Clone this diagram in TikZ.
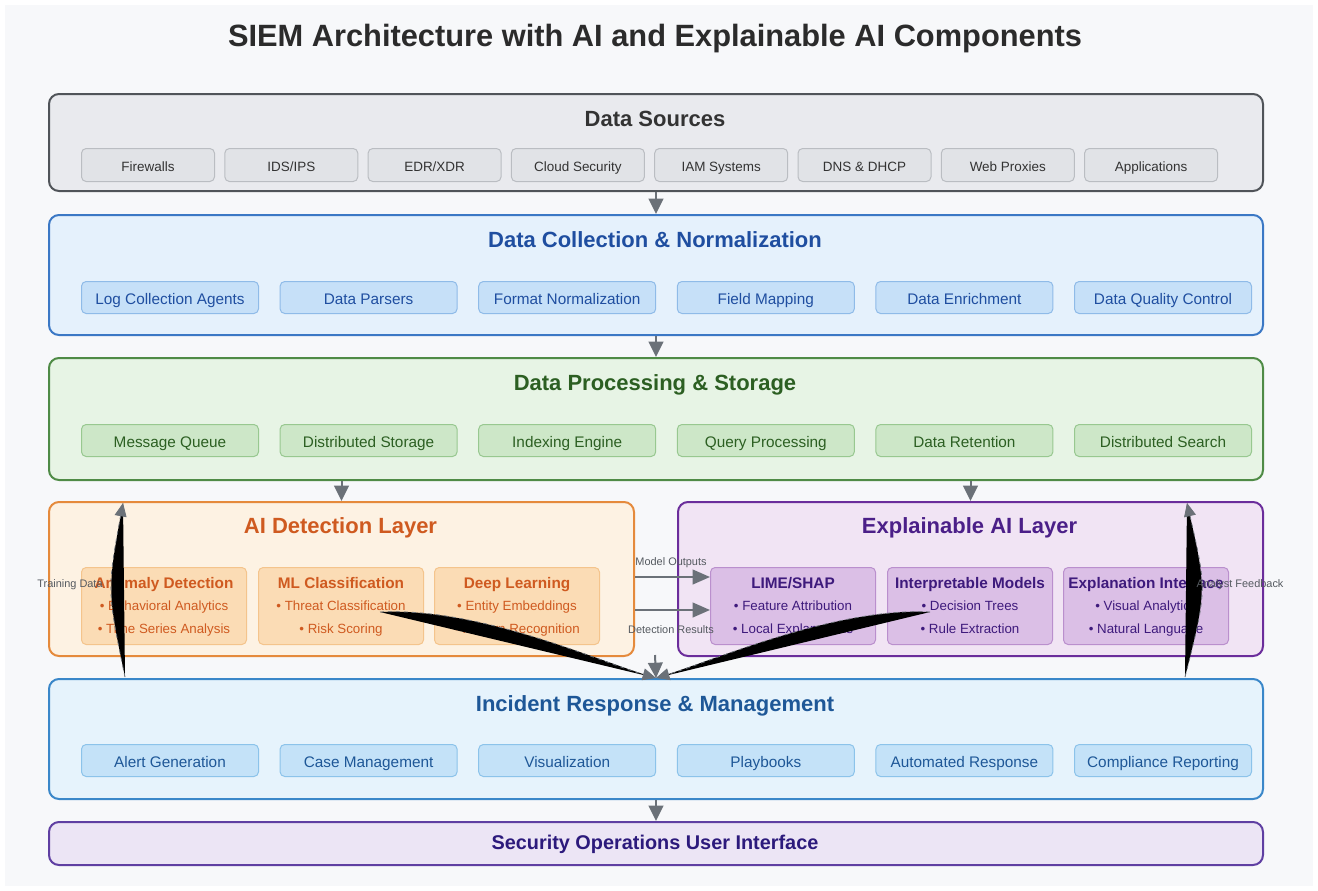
\documentclass[tikz,border=0pt]{standalone}
\usepackage{fontspec}
\setmainfont{Liberation Sans}
\usetikzlibrary{arrows.meta,calc}
\newcommand{\pxl}{0.75pt}
\definecolor{bgc}{HTML}{F7F8FA}
\definecolor{titc}{HTML}{2B2B2B}
\definecolor{dsf}{HTML}{E9EAEE}\definecolor{dsb}{HTML}{505459}\definecolor{dsif}{HTML}{E1E3E7}\definecolor{dsib}{HTML}{BABDC2}\definecolor{dst}{HTML}{333333}
\definecolor{dcf}{HTML}{E5F1FC}\definecolor{dcb}{HTML}{3B78C5}\definecolor{dcif}{HTML}{C6E0F8}\definecolor{dcib}{HTML}{8FBBE8}\definecolor{dct}{HTML}{1F4EA0}
\definecolor{dpf}{HTML}{E7F4E5}\definecolor{dpb}{HTML}{4F8B46}\definecolor{dpif}{HTML}{CDE7C8}\definecolor{dpib}{HTML}{98C890}\definecolor{dpt}{HTML}{2C5F22}
\definecolor{aif}{HTML}{FDF2E3}\definecolor{aib}{HTML}{E58A3C}\definecolor{aiif}{HTML}{FBDCB5}\definecolor{aiib}{HTML}{F4C48C}\definecolor{ait}{HTML}{CF5A20}
\definecolor{xaf}{HTML}{F1E4F4}\definecolor{xab}{HTML}{6B2D9B}\definecolor{xaif}{HTML}{DBBFE6}\definecolor{xaib}{HTML}{BA8FCD}\definecolor{xat}{HTML}{4B1F88}\definecolor{xast}{HTML}{3E1A7C}
\definecolor{irf}{HTML}{E6F3FC}\definecolor{irb}{HTML}{3A87C9}\definecolor{irif}{HTML}{C4E2F8}\definecolor{irib}{HTML}{8CC3EA}\definecolor{irt}{HTML}{1E5797}
\definecolor{sof}{HTML}{ECE5F5}\definecolor{sob}{HTML}{5F3FA2}\definecolor{sot}{HTML}{2C1A7C}
\definecolor{arrc}{HTML}{6B7178}\definecolor{lblc}{HTML}{555A60}
\begin{document}
\begin{tikzpicture}[x=0.75pt,y=-0.75pt,
  layer/.style={draw, line width=1.5pt, rounded corners=7.5pt, anchor=north west, inner sep=0pt, minimum width=1214*\pxl},
  half/.style={draw, line width=1.5pt, rounded corners=7.5pt, anchor=north west, inner sep=0pt, minimum width=585*\pxl, minimum height=154*\pxl},
  ltitle/.style={font=\fontsize{16.5}{19}\selectfont\bfseries, inner sep=0pt, text height=15.4pt, text depth=3.5pt},
  dsitem/.style={draw=dsib, fill=dsif, text=dst, line width=0.75pt, rounded corners=3.5pt, anchor=north west, inner sep=0pt, minimum width=133*\pxl, minimum height=33*\pxl, text height=12.3pt, text depth=2pt, font=\fontsize{10.1}{12}\selectfont},
  item/.style={line width=0.75pt, rounded corners=3.5pt, anchor=north west, inner sep=0pt, minimum width=177*\pxl, minimum height=32*\pxl, text height=12.7pt, text depth=2.3pt, font=\fontsize{11.5}{13}\selectfont},
  subbox/.style={line width=0.75pt, rounded corners=3.5pt, anchor=north west, inner sep=0pt, minimum width=165*\pxl, minimum height=77*\pxl},
  subt/.style={font=\fontsize{11.5}{13}\selectfont\bfseries, inner sep=0pt, text height=10.8pt, text depth=2.5pt},
  bul/.style={font=\fontsize{10}{12}\selectfont, inner sep=0pt, text height=9.4pt, text depth=2.2pt},
  arr/.style={draw=arrc, line width=1.5pt, -{Triangle[length=11.5pt,width=11pt]}, arrc},
  harr/.style={draw=arrc, line width=1.5pt, -{Triangle[length=13pt,width=11pt]}, arrc},
  elbl/.style={font=\fontsize{8.2}{10}\selectfont, text=lblc, inner sep=0pt},
  wedge/.style={draw=arrc, line width=0.6pt, dashed, -{Triangle[length=10pt,width=9pt]}},
]
\useasboundingbox (0,0) rectangle (1318,890);
\fill[white] (0,0) rectangle (1318,890);
\fill[bgc] (5,5) rectangle (1313,886);

% title
\node[font=\fontsize{23.1}{27}\selectfont\bfseries, text=titc, inner sep=0pt] (title) at (655,39) {SIEM Architecture with AI and Explainable AI Components};

% Data Sources
\node[layer, draw=dsb, fill=dsf, minimum height=97*\pxl] (ds) at (48,93) {};
\node[ltitle, text=dst] (dsT) at (655,119) {Data Sources};
\foreach \t [count=\i] in {Firewalls, IDS/IPS, EDR/XDR, Cloud Security, IAM Systems, DNS \& DHCP, Web Proxies, Applications}
  \node[dsitem] (ds\i) at ({81+(\i-1)*143.3},148) {\t};

% Data Collection
\node[layer, draw=dcb, fill=dcf, minimum height=120*\pxl] (dc) at (48,214) {};
\node[ltitle, text=dct] (dcT) at (655,240) {Data Collection \& Normalization};
\foreach \t [count=\i] in {Log Collection Agents, Data Parsers, Format Normalization, Field Mapping, Data Enrichment, Data Quality Control}
  \node[item, draw=dcib, fill=dcif, text=dct] (dc\i) at ({81+(\i-1)*198.6},281) {\t};

% Data Processing
\node[layer, draw=dpb, fill=dpf, minimum height=122*\pxl] (dp) at (48,357) {};
\node[ltitle, text=dpt] (dpT) at (655,383) {Data Processing \& Storage};
\foreach \t [count=\i] in {Message Queue, Distributed Storage, Indexing Engine, Query Processing, Data Retention, Distributed Search}
  \node[item, draw=dpib, fill=dpif, text=dpt] (dp\i) at ({81+(\i-1)*198.6},424) {\t};

% AI Detection Layer
\node[half, draw=aib, fill=aif] (ai) at (48,501) {};
\node[ltitle, text=ait] (aiT) at (340.5,526) {AI Detection Layer};
\node[subbox, draw=aiib, fill=aiif] (an) at (81,567) {};
\node[subbox, draw=aiib, fill=aiif] (ml) at (258,567) {};
\node[subbox, draw=aiib, fill=aiif] (dl) at (434,567) {};
\node[subt, text=ait] at ($(an.north)+(0,16)$) {Anomaly Detection};
\node[bul, text=ait] at ($(an.north)+(0,39)$) {• Behavioral Analytics};
\node[bul, text=ait] at ($(an.north)+(0,62)$) {• Time Series Analysis};
\node[subt, text=ait] at ($(ml.north)+(0,16)$) {ML Classification};
\node[bul, text=ait] at ($(ml.north)+(0,39)$) {• Threat Classification};
\node[bul, text=ait] at ($(ml.north)+(0,62)$) {• Risk Scoring};
\node[subt, text=ait] at ($(dl.north)+(0,16)$) {Deep Learning};
\node[bul, text=ait] at ($(dl.north)+(0,39)$) {• Entity Embeddings};
\node[bul, text=ait] at ($(dl.north)+(0,62)$) {• Pattern Recognition};

% Explainable AI Layer
\node[half, draw=xab, fill=xaf] (xa) at (677,501) {};
\node[ltitle, text=xat] (xaT) at (969.5,526) {Explainable AI Layer};
\node[subbox, draw=xaib, fill=xaif] (ls) at (710,567) {};
\node[subbox, draw=xaib, fill=xaif] (im) at (887,567) {};
\node[subbox, draw=xaib, fill=xaif] (ei) at (1063,567) {};
\node[subt, text=xast] at ($(ls.north)+(0,16)$) {LIME/SHAP};
\node[bul, text=xast] at ($(ls.north)+(0,39)$) {• Feature Attribution};
\node[bul, text=xast] at ($(ls.north)+(0,62)$) {• Local Explanations};
\node[subt, text=xast] at ($(im.north)+(0,16)$) {Interpretable Models};
\node[bul, text=xast] at ($(im.north)+(0,39)$) {• Decision Trees};
\node[bul, text=xast] at ($(im.north)+(0,62)$) {• Rule Extraction};
\node[subt, text=xast] at ($(ei.north)+(0,16)$) {Explanation Interface};
\node[bul, text=xast] at ($(ei.north)+(0,39)$) {• Visual Analytics};
\node[bul, text=xast] at ($(ei.north)+(0,62)$) {• Natural Language};

% Incident Response
\node[layer, draw=irb, fill=irf, minimum height=120*\pxl] (ir) at (48,678) {};
\node[ltitle, text=irt] (irT) at (655,704) {Incident Response \& Management};
\foreach \t [count=\i] in {Alert Generation, Case Management, Visualization, Playbooks, Automated Response, Compliance Reporting}
  \node[item, draw=irib, fill=irif, text=irt] (ir\i) at ({81+(\i-1)*198.6},744) {\t};

% Security Operations UI
\node[layer, draw=sob, fill=sof, minimum height=43*\pxl] (so) at (48,821) {};
\node[font=\fontsize{14.9}{17}\selectfont\bfseries, text=sot, inner sep=0pt, text height=13.9pt, text depth=3.2pt] (soT) at (655,842) {Security Operations User Interface};

% vertical flow arrows
\draw[arr] (ds.south) -- (dc.north);
\draw[arr] (dc.south) -- (dp.north);
\draw[arr] (dp.south -| ai.north) -- (ai.north);
\draw[arr] (dp.south -| xa.north) -- (xa.north);
\draw[arr] (ir.south) -- (so.north);

% horizontal arrows
\coordinate (yMO) at (0,577);
\coordinate (yDR) at (0,610);
\draw[harr] (ai.east |- yMO) -- (ls.west |- yMO);
\draw[harr] (ai.east |- yDR) -- (ls.west |- yDR);

% short arrow into incident response
\coordinate (mid) at (655,655);
\draw[arr] (mid) -- (ir.north);

% curved (filled) connectors
\coordinate (tdS) at (125,677);
\coordinate (tdE) at (123,503);
\fill[black] (tdS) .. controls (107,590) .. (tdE) -- cycle;
\draw[wedge] (tdS) .. controls (107,590) .. (tdE);

\coordinate (afS) at (1185,677);
\coordinate (afE) at (1187,503);
\fill[black] (afS) .. controls (1207,590) .. (afE) -- cycle;
\draw[wedge] (afS) .. controls (1207,590) .. (afE);

\coordinate (mlS) at (380,612);
\fill[black] (mlS) .. controls (480,607) and (600,662) .. (ir.north) -- cycle;
\draw[wedge] (mlS) .. controls (480,607) and (600,662) .. (ir.north);

\coordinate (imS) at (930,612);
\fill[black] (imS) .. controls (835,607) and (710,662) .. (ir.north) -- cycle;
\draw[wedge] (imS) .. controls (835,607) and (710,662) .. (ir.north);

% edge labels
\node[elbl] (lMO) at (671,563) {Model Outputs};
\node[elbl] (lDR) at (671,630) {Detection Results};
\node[elbl] (lTD) at (70,585) {Training Data};
\node[elbl] (lAF) at (1240,585) {Analyst Feedback};
\end{tikzpicture}
\end{document}
